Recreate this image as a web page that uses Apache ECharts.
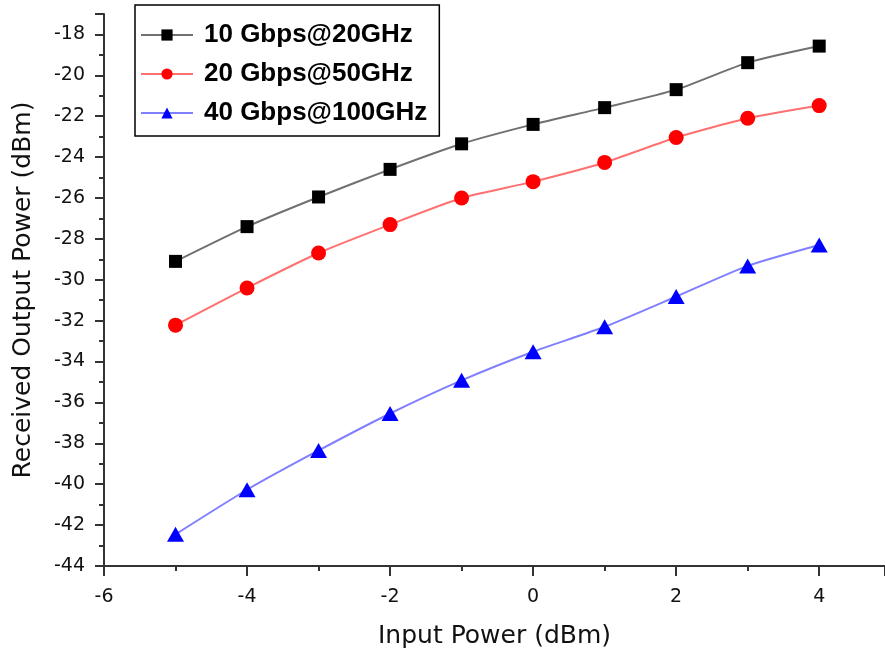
<!DOCTYPE html>
<html>
<head>
<meta charset="utf-8">
<script src="https://cdn.jsdelivr.net/npm/echarts@6/dist/echarts.min.js"></script>
<style>
html,body{margin:0;padding:0;background:#fff;}
#chart{width:885px;height:650px;}
</style>
</head>
<body>
<div id="chart"></div>
<script>
var inputPower = [-5, -4, -3, -2, -1, 0, 1, 2, 3, 4];
var s10G20 = [-29.1, -27.4, -25.95, -24.6, -23.35, -22.4, -21.58, -20.7, -19.38, -18.57];
var s20G50 = [-32.22, -30.4, -28.69, -27.3, -26.0, -25.2, -24.26, -23.04, -22.1, -21.48];
var s40G100 = [-42.45, -40.27, -38.35, -36.54, -34.92, -33.52, -32.3, -30.82, -29.32, -28.3];
var seriesNames = ['10 Gbps@20GHz', '20 Gbps@50GHz', '40 Gbps@100GHz'];

function pairs(xs, ys) { return xs.map(function (x, i) { return [x, ys[i]]; }); }

var chart = echarts.init(document.getElementById('chart'), null, {renderer: 'canvas'});
var axisFont = 'DejaVu Sans';
chart.setOption({
  animation: false,
  backgroundColor: '#fff',
  grid: {left: 104, top: 14, right: 0, bottom: 84, containLabel: false, outerBoundsMode: 'none'},
  legend: {
    orient: 'vertical',
    left: 135, top: 5,
    itemWidth: 52, itemHeight: 14, itemGap: 9,
    padding: [15, 12, 8, 5],
    borderColor: '#000', borderWidth: 1.5,
    backgroundColor: '#fff',
    textStyle: {fontFamily: 'Liberation Sans', fontWeight: 'bold', fontSize: 26, color: '#000', lineHeight: 30, padding: [0, 0, 0, 6]},
    data: seriesNames
  },
  xAxis: {
    type: 'value', min: -6, max: 4.92, interval: 2,
    name: 'Input Power (dBm)', nameLocation: 'middle', nameGap: 58,
    nameTextStyle: {fontFamily: axisFont, fontSize: 25, color: '#111'},
    axisLine: {show: true, onZero: false, lineStyle: {color: '#333', width: 2}},
    axisTick: {show: true, length: 10, lineStyle: {color: '#333', width: 2}},
    minorTick: {show: true, splitNumber: 2, length: 5, lineStyle: {color: '#333', width: 2}},
    axisLabel: {fontFamily: axisFont, fontSize: 19, color: '#111', margin: 22, showMaxLabel: false},
    splitLine: {show: false}
  },
  yAxis: {
    type: 'value', min: -44, max: -17, interval: 2,
    name: 'Received Output Power (dBm)', nameLocation: 'middle', nameGap: 68,
    nameTextStyle: {fontFamily: axisFont, fontSize: 25, color: '#111'},
    axisLine: {show: true, onZero: false, lineStyle: {color: '#333', width: 2}},
    axisTick: {show: true, length: 9, lineStyle: {color: '#333', width: 2}},
    minorTick: {show: true, splitNumber: 2, length: 5, lineStyle: {color: '#333', width: 2}},
    axisLabel: {fontFamily: axisFont, fontSize: 19, color: '#111', margin: 19, showMaxLabel: false},
    splitLine: {show: false}
  },
  series: [
    {
      name: seriesNames[0], type: 'line', smooth: 0.2,
      data: pairs(inputPower, s10G20),
      symbol: 'rect', symbolSize: 13,
      itemStyle: {color: '#000'},
      lineStyle: {color: '#707070', width: 2}
    },
    {
      name: seriesNames[1], type: 'line', smooth: 0.2,
      data: pairs(inputPower, s20G50),
      symbol: 'circle', symbolSize: 15,
      itemStyle: {color: '#ff0000'},
      lineStyle: {color: '#ff7070', width: 2}
    },
    {
      name: seriesNames[2], type: 'line', smooth: 0.2,
      data: pairs(inputPower, s40G100),
      symbol: 'triangle', symbolSize: [17, 15],
      itemStyle: {color: '#0000ff'},
      lineStyle: {color: '#8080ff', width: 2}
    }
  ]
});
</script>
</body>
</html>
